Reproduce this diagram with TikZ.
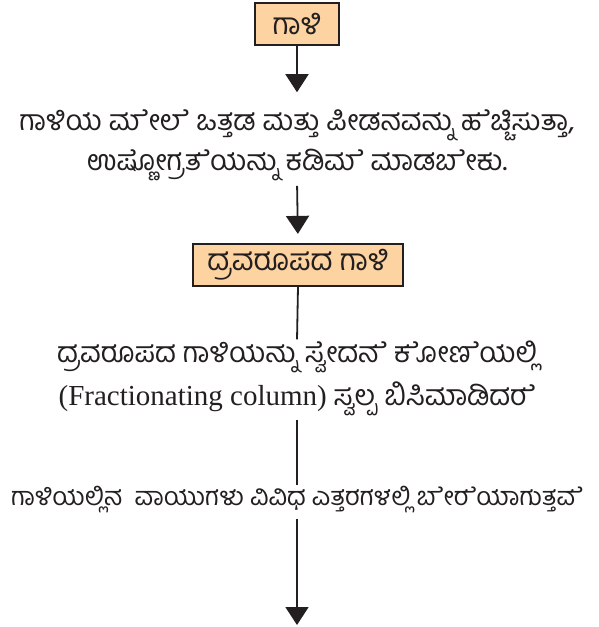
\documentclass[tikz,border=0pt]{standalone}
\usepackage{fontspec}
\setmainfont{Liberation Serif}
\newfontfamily\kanfont[Script=Kannada]{Hind Mysuru}
\usetikzlibrary{arrows.meta,positioning}
\definecolor{galifill}{HTML}{FCD3A1}
\definecolor{galiink}{HTML}{231F20}
% joiner, keeps the e-sign visible in Hind Mysuru
\newcommand{\zj}{^^^^200d}

\begin{document}
\begin{tikzpicture}[x=1pt, y=1pt,
  >={Triangle[width=23pt,length=18pt]},
  box/.style={draw=galiink, line width=2.2pt, fill=galifill, minimum height=42pt, inner xsep=8pt, text=galiink, font=\kanfont\fontsize{30}{34}\selectfont},
  txt/.style={align=center, inner sep=0pt, text=galiink, font=\kanfont\fontsize{28.5}{40}\selectfont},
  flow/.style={->, line width=1.8pt, galiink},
  link/.style={line width=1.8pt, galiink},
]
  \useasboundingbox (-297,0) rectangle (301,-627);
  % boxes and statements, top to bottom
  \node[box, minimum width=84pt] (gali) at (0,-24) {ಗಾಳಿ};
  \node[txt] (press) at (0,-145) {ಗಾಳಿಯ ಮ\zj ೇಲ\zj ೆ ಒತ್ತಡ ಮತ್ತು ಪೀಡನವನ್ನು ಹ\zj ೆಚ್ಚಿಸುತ್ತಾ,\\ಉಷ್ಣ\zj ೋಗ್ರತ\zj ೆಯನ್ನು ಕಡಿಮ\zj ೆ ಮಾಡಬ\zj ೇಕು.};
  \node[box, minimum width=210pt] (liquid) at (1,-265) {ದ್ರವರೂಪದ ಗಾಳಿ};
  \node[txt, font=\kanfont\fontsize{28.5}{43}\selectfont] (heat) at (0,-378) {ದ್ರವರೂಪದ ಗಾಳಿಯನ್ನು ಸ್ವ\zj ೇದನ\zj ೆ ಕ\zj ೋಣ\zj ೆಯಲ್ಲಿ\\{\rmfamily\fontsize{29}{43}\selectfont (Fractionating column)} ಸ್ವಲ್ಪ ಬಿಸಿಮಾಡಿದರ\zj ೆ};
  \node[txt, font=\kanfont\fontsize{25.5}{40}\selectfont] (split) at (0,-500) {ಗಾಳಿಯಲ್ಲಿನ\ \ ವಾಯುಗಳು ವಿವಿಧ ಎತ್ತರಗಳಲ್ಲಿ ಬ\zj ೇರ\zj ೆಯಾಗುತ್ತವ\zj ೆ};
  \coordinate (out) at (0,-625);
  % connectors
  \draw[flow, shorten >=17pt] (gali.south) -- (press.north);
  \draw[flow, shorten <=5pt, shorten >=9pt] (press.south) -- (liquid.north);
  \draw[link, shorten >=1pt] (liquid.south) -- (heat.north);
  \draw[link, shorten <=4pt, shorten >=1pt] (heat.south) -- (split.north);
  \draw[flow, shorten <=5pt] (split.south) -- (out);
\end{tikzpicture}
\end{document}
